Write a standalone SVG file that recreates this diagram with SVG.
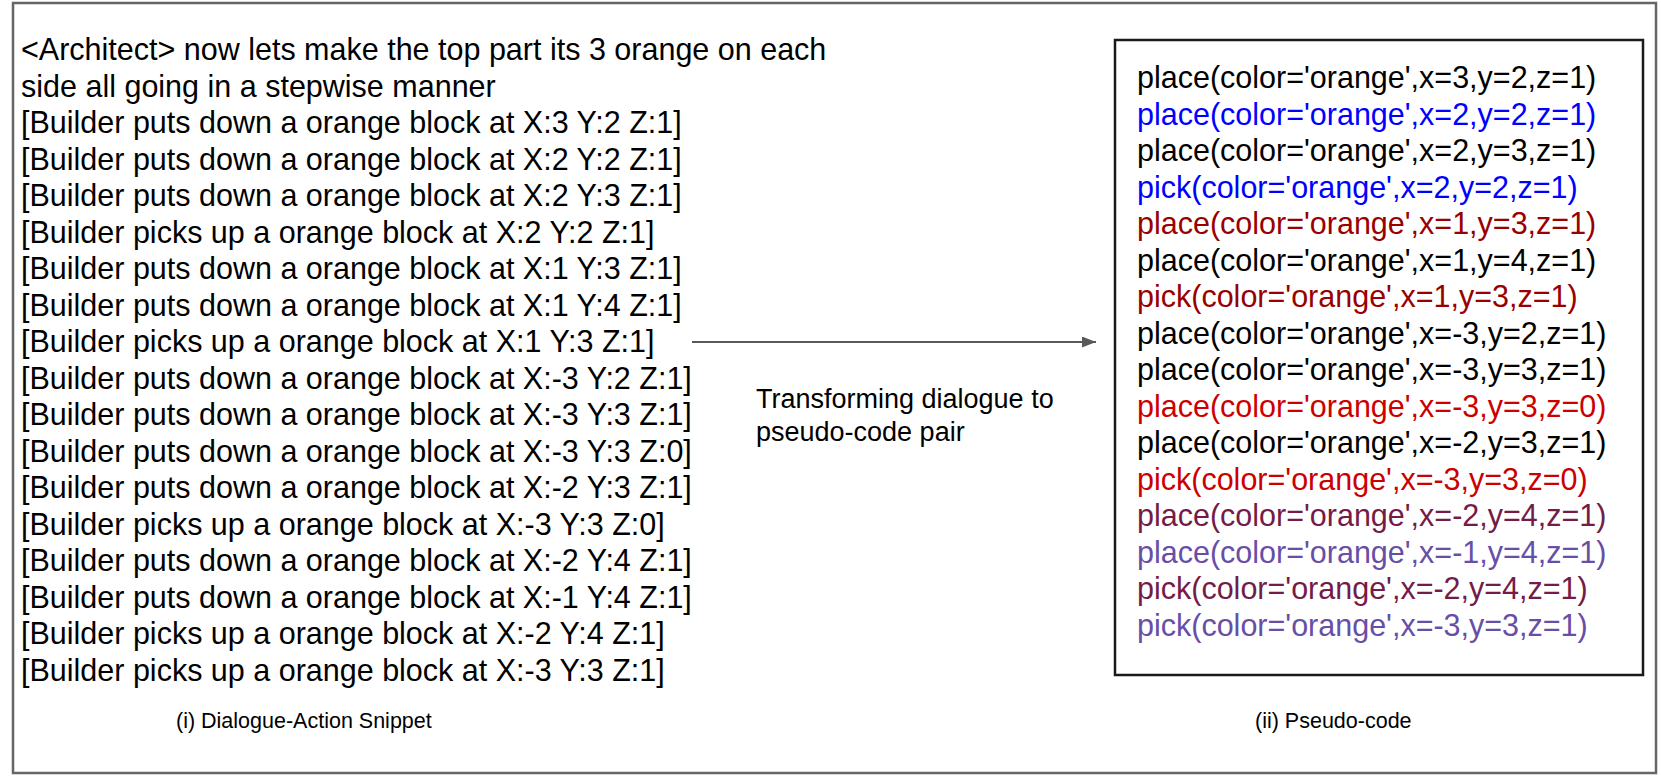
<svg xmlns="http://www.w3.org/2000/svg" width="1661" height="776" viewBox="0 0 1661 776">
  <style>
    text { font-family: "Liberation Sans", Arial, sans-serif; }
    .body { font-size: 30.5px; fill: #000000; }
    .cap { font-size: 21.5px; fill: #000000; }
    .lbl { font-size: 27px; fill: #000000; }
    .k { fill: #000000; }
    .b { fill: #0000ff; }
    .dr { fill: #990000; }
    .r { fill: #cc0000; }
    .m { fill: #741b47; }
    .p { fill: #674ea7; }
  </style>
  <defs>
    <marker id="arrowhead" markerWidth="14" markerHeight="11" refX="14" refY="5.5" orient="auto" markerUnits="userSpaceOnUse">
      <path d="M0,0 L14,5.5 L0,11 Z" fill="#595959"/>
    </marker>
  </defs>

  <rect x="0" y="0" width="1661" height="776" fill="#ffffff"/>

  <!-- outer frame -->
  <rect id="frame" x="13" y="3" width="1643" height="770" fill="none" stroke="#666666" stroke-width="2.5"/>

  <!-- dialogue-action snippet -->
  <g id="dialogue">
    <text class="body" x="21">
      <tspan x="21" y="60">&lt;Architect&gt; now lets make the top part its 3 orange on each</tspan>
      <tspan x="21" dy="36.5">side all going in a stepwise manner</tspan>
      <tspan x="21" dy="36.5">[Builder puts down a orange block at X:3 Y:2 Z:1]</tspan>
      <tspan x="21" dy="36.5">[Builder puts down a orange block at X:2 Y:2 Z:1]</tspan>
      <tspan x="21" dy="36.5">[Builder puts down a orange block at X:2 Y:3 Z:1]</tspan>
      <tspan x="21" dy="36.5">[Builder picks up a orange block at X:2 Y:2 Z:1]</tspan>
      <tspan x="21" dy="36.5">[Builder puts down a orange block at X:1 Y:3 Z:1]</tspan>
      <tspan x="21" dy="36.5">[Builder puts down a orange block at X:1 Y:4 Z:1]</tspan>
      <tspan x="21" dy="36.5">[Builder picks up a orange block at X:1 Y:3 Z:1]</tspan>
      <tspan x="21" dy="36.5">[Builder puts down a orange block at X:-3 Y:2 Z:1]</tspan>
      <tspan x="21" dy="36.5">[Builder puts down a orange block at X:-3 Y:3 Z:1]</tspan>
      <tspan x="21" dy="36.5">[Builder puts down a orange block at X:-3 Y:3 Z:0]</tspan>
      <tspan x="21" dy="36.5">[Builder puts down a orange block at X:-2 Y:3 Z:1]</tspan>
      <tspan x="21" dy="36.5">[Builder picks up a orange block at X:-3 Y:3 Z:0]</tspan>
      <tspan x="21" dy="36.5">[Builder puts down a orange block at X:-2 Y:4 Z:1]</tspan>
      <tspan x="21" dy="36.5">[Builder puts down a orange block at X:-1 Y:4 Z:1]</tspan>
      <tspan x="21" dy="36.5">[Builder picks up a orange block at X:-2 Y:4 Z:1]</tspan>
      <tspan x="21" dy="36.5">[Builder picks up a orange block at X:-3 Y:3 Z:1]</tspan>
    </text>
    <text class="cap" x="176" y="728">(i) Dialogue-Action Snippet</text>
  </g>

  <!-- pseudo-code listing -->
  <g id="pseudocode">
    <rect x="1115" y="40" width="528" height="635" fill="#ffffff" stroke="#1a1a1a" stroke-width="2.5"/>
    <text class="body" x="1137">
      <tspan class="k" x="1137" y="88">place(color='orange',x=3,y=2,z=1)</tspan>
      <tspan class="b" x="1137" dy="36.5">place(color='orange',x=2,y=2,z=1)</tspan>
      <tspan class="k" x="1137" dy="36.5">place(color='orange',x=2,y=3,z=1)</tspan>
      <tspan class="b" x="1137" dy="36.5">pick(color='orange',x=2,y=2,z=1)</tspan>
      <tspan class="dr" x="1137" dy="36.5">place(color='orange',x=1,y=3,z=1)</tspan>
      <tspan class="k" x="1137" dy="36.5">place(color='orange',x=1,y=4,z=1)</tspan>
      <tspan class="dr" x="1137" dy="36.5">pick(color='orange',x=1,y=3,z=1)</tspan>
      <tspan class="k" x="1137" dy="36.5">place(color='orange',x=-3,y=2,z=1)</tspan>
      <tspan class="k" x="1137" dy="36.5">place(color='orange',x=-3,y=3,z=1)</tspan>
      <tspan class="r" x="1137" dy="36.5">place(color='orange',x=-3,y=3,z=0)</tspan>
      <tspan class="k" x="1137" dy="36.5">place(color='orange',x=-2,y=3,z=1)</tspan>
      <tspan class="r" x="1137" dy="36.5">pick(color='orange',x=-3,y=3,z=0)</tspan>
      <tspan class="m" x="1137" dy="36.5">place(color='orange',x=-2,y=4,z=1)</tspan>
      <tspan class="p" x="1137" dy="36.5">place(color='orange',x=-1,y=4,z=1)</tspan>
      <tspan class="m" x="1137" dy="36.5">pick(color='orange',x=-2,y=4,z=1)</tspan>
      <tspan class="p" x="1137" dy="36.5">pick(color='orange',x=-3,y=3,z=1)</tspan>
    </text>
    <text class="cap" x="1255" y="728">(ii) Pseudo-code</text>
  </g>

  <!-- transformation connector -->
  <g id="connectors">
    <line x1="692" y1="342" x2="1096" y2="342" stroke="#595959" stroke-width="2" marker-end="url(#arrowhead)"/>
    <text class="lbl">
      <tspan x="756" y="408">Transforming dialogue to</tspan>
      <tspan x="756" y="441">pseudo-code pair</tspan>
    </text>
  </g>
</svg>
